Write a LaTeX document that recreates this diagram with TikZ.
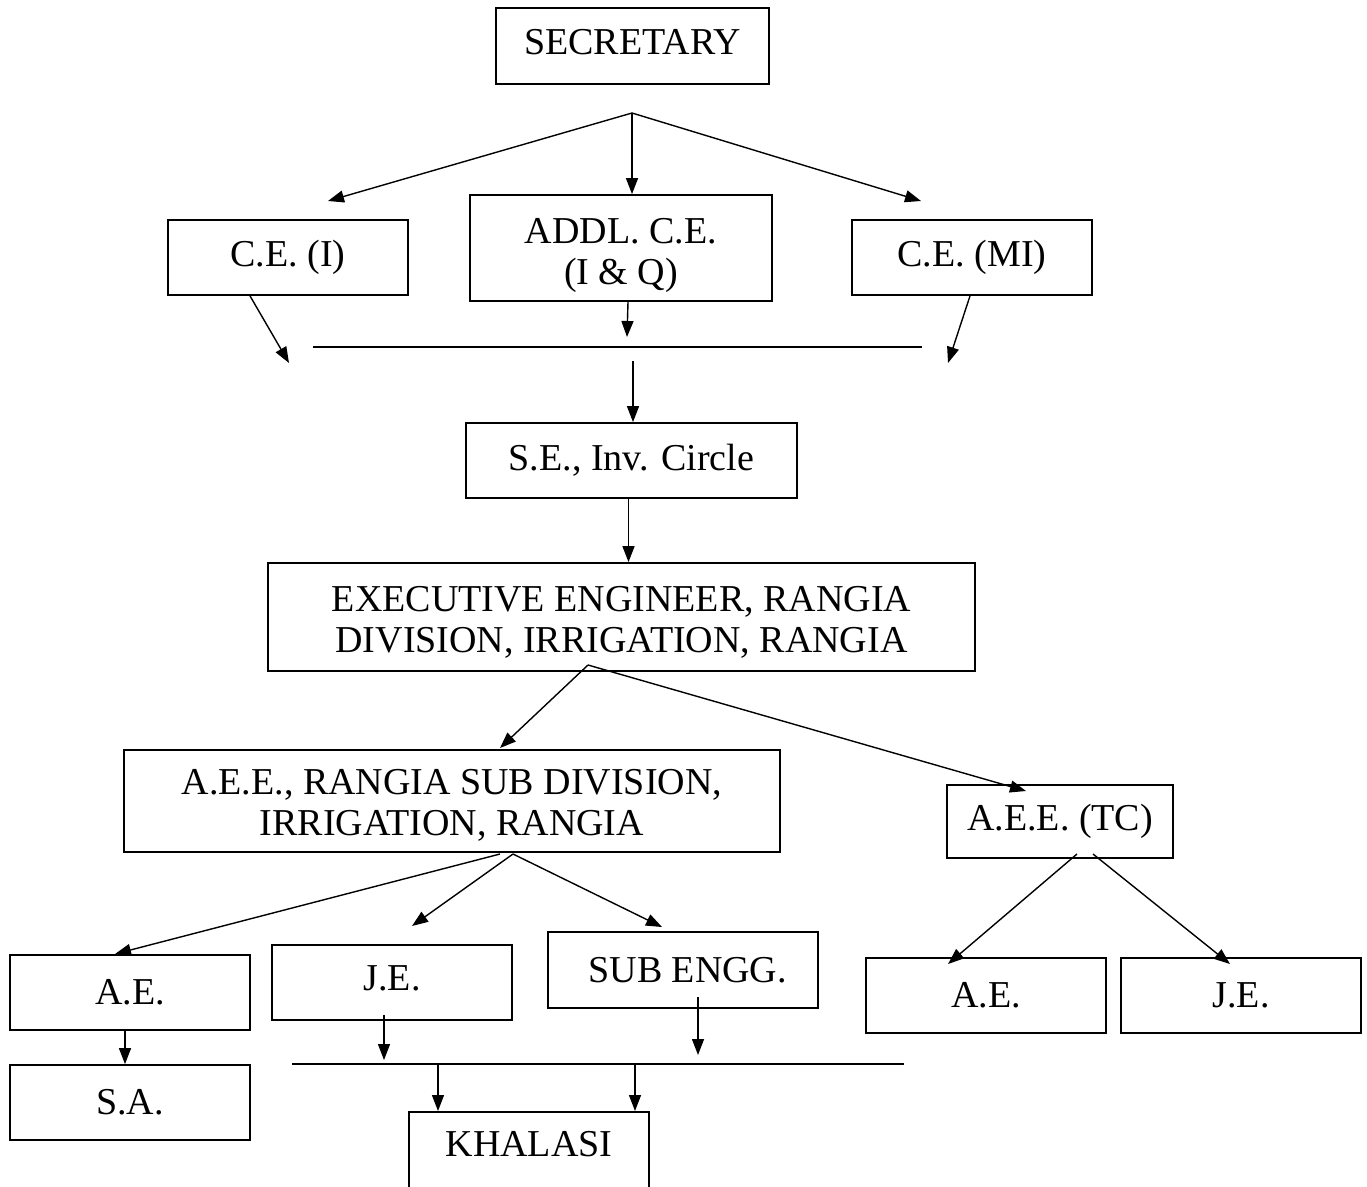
\documentclass[tikz,border=0pt]{standalone}
\usepackage{fontspec}
\setmainfont{Liberation Serif}
\usetikzlibrary{arrows.meta}
\tikzset{
  box/.style = {draw, line width = 1.8pt, align = center, inner sep = 0pt,
    minimum width = 240pt, minimum height = 75pt,
    font = \fontsize{38}{41}\selectfont},
  link/.style = {line width = 1.4pt, -{Triangle[length = 16pt, width = 12pt]}},
  bar/.style = {line width = 1.4pt},
}
\newcommand{\toppad}[1]{\rule{0pt}{#1}}

\begin{document}
\begin{tikzpicture}[x = 1pt, y = -1pt]
			\useasboundingbox (0,0) rectangle (1367,1186);

			\begin{scope}
				\node [box, minimum width = 273pt, minimum height = 76pt, text depth = 8pt] (sec) at (632.5,46) {SECRETARY};

				\node [box] (ceI) at (288,257.5) {C.E. (I)};
				\node [box, minimum width = 302pt, minimum height = 106pt] (addl) at (621,248) {\toppad{41pt}ADDL. C.E.\\(I \& Q)};
				\node [box] (ceMI) at (972,257.5) {C.E. (MI)};

				\node [box, minimum width = 331pt] (se) at (631.5,460.5) {S.E., Inv. Circle};
				\node [box, minimum width = 707pt, minimum height = 108pt] (ee) at (621.5,617)
					{\toppad{35pt}EXECUTIVE ENGINEER, RANGIA\\DIVISION, IRRIGATION, RANGIA};

				\node [box, minimum width = 656pt, minimum height = 102pt] (aeeR) at (452,801)
					{\toppad{33pt}A.E.E., RANGIA SUB DIVISION,\\IRRIGATION, RANGIA};
				\node [box, minimum width = 226pt, minimum height = 73pt] (aeeTC) at (1060,821.5) {A.E.E. (TC)};

				\node [box] (ae) at (130,992.5) {A.E.};
				\node [box, text depth = 8pt] (je) at (392,982.5) {J.E.};
				\node [box, minimum width = 270pt, minimum height = 76pt] (subeng) at (683,970) {\ SUB ENGG.};
				\node [box] (aeT) at (986,995.5) {A.E.};
				\node [box] (jeT) at (1241,995.5) {J.E.};

				\node [box] (sa) at (130,1102.5) {S.A.};
				\node [box, anchor = north, minimum height = 0pt, inner ysep = 19pt,
					text height = 26pt, text depth = 80pt] (khalasi) at (529,1111) {KHALASI};
			\end{scope}

			\begin{scope}
				\coordinate (secfork) at (632,113);
				\coordinate (ceIin) at (328,201);
				\coordinate (ceMIin) at (921,201);
				\draw [link] (secfork) -- (ceIin);
				\draw [link] (secfork) -- (secfork |- addl.north);
				\draw [link] (secfork) -- (ceMIin);

				\coordinate (barL) at (313,347);
				\coordinate (barR) at (922,347);
				\coordinate (ceIout) at (289,363);
				\coordinate (addlout) at (627,337);
				\coordinate (ceMIout) at (948,363);
				\coordinate (sein) at (633,361);
				\draw [bar] (barL) -- (barR);
				\draw [link] ([xshift = -38pt]ceI.south) -- (ceIout);
				\draw [link] ([xshift = 7pt]addl.south) -- (addlout);
				\draw [link] ([xshift = -2pt]ceMI.south) -- (ceMIout);
				\draw [link] (sein) -- (sein |- se.north);

				\draw [link] ([xshift = -3pt]se.south) -- ([xshift = -3pt]se.south |- ee.north);
			\end{scope}

			\begin{scope}
				\coordinate (eefork) at (588,665);
				\coordinate (aeeRin) at (500,748);
				\coordinate (aeeTCin) at (1026,791);
				\draw [link] (eefork) -- (aeeRin);
				\draw [link] (eefork) -- (aeeTCin);

				\coordinate (aeeRforkL) at (500,854);
				\coordinate (aeeRforkR) at (513,854);
				\coordinate (aein) at (115,954);
				\coordinate (jein) at (412,926);
				\coordinate (subin) at (662,927);
				\draw [link] (aeeRforkL) -- (aein);
				\draw [link] (aeeRforkR) -- (jein);
				\draw [link] (aeeRforkR) -- (subin);

				\coordinate (tcforkL) at (1077,854);
				\coordinate (tcforkR) at (1093,854);
				\coordinate (aeTin) at (948,964);
				\coordinate (jeTin) at (1230,964);
				\draw [link] (tcforkL) -- (aeTin);
				\draw [link] (tcforkR) -- (jeTin);
			\end{scope}

			\begin{scope}
				\draw [link] ([xshift = -5pt]ae.south) -- ([xshift = -5pt]ae.south |- sa.north);

				\coordinate (lowL) at (292,1064);
				\coordinate (lowR) at (904,1064);
				\coordinate (jeout) at (384,1060);
				\coordinate (subout) at (698,1055);
				\coordinate (kha1) at (438,1064);
				\coordinate (kha2) at (635,1064);
				\draw [bar] (lowL) -- (lowR);
				\draw [link] ([yshift = 6pt]je.south -| jeout) -- (jeout);
				\draw [link] ([yshift = 12pt]subeng.south -| subout) -- (subout);
				\draw [link] (kha1) -- (kha1 |- khalasi.north);
				\draw [link] (kha2) -- (kha2 |- khalasi.north);
			\end{scope}
		\end{tikzpicture}
\end{document}
